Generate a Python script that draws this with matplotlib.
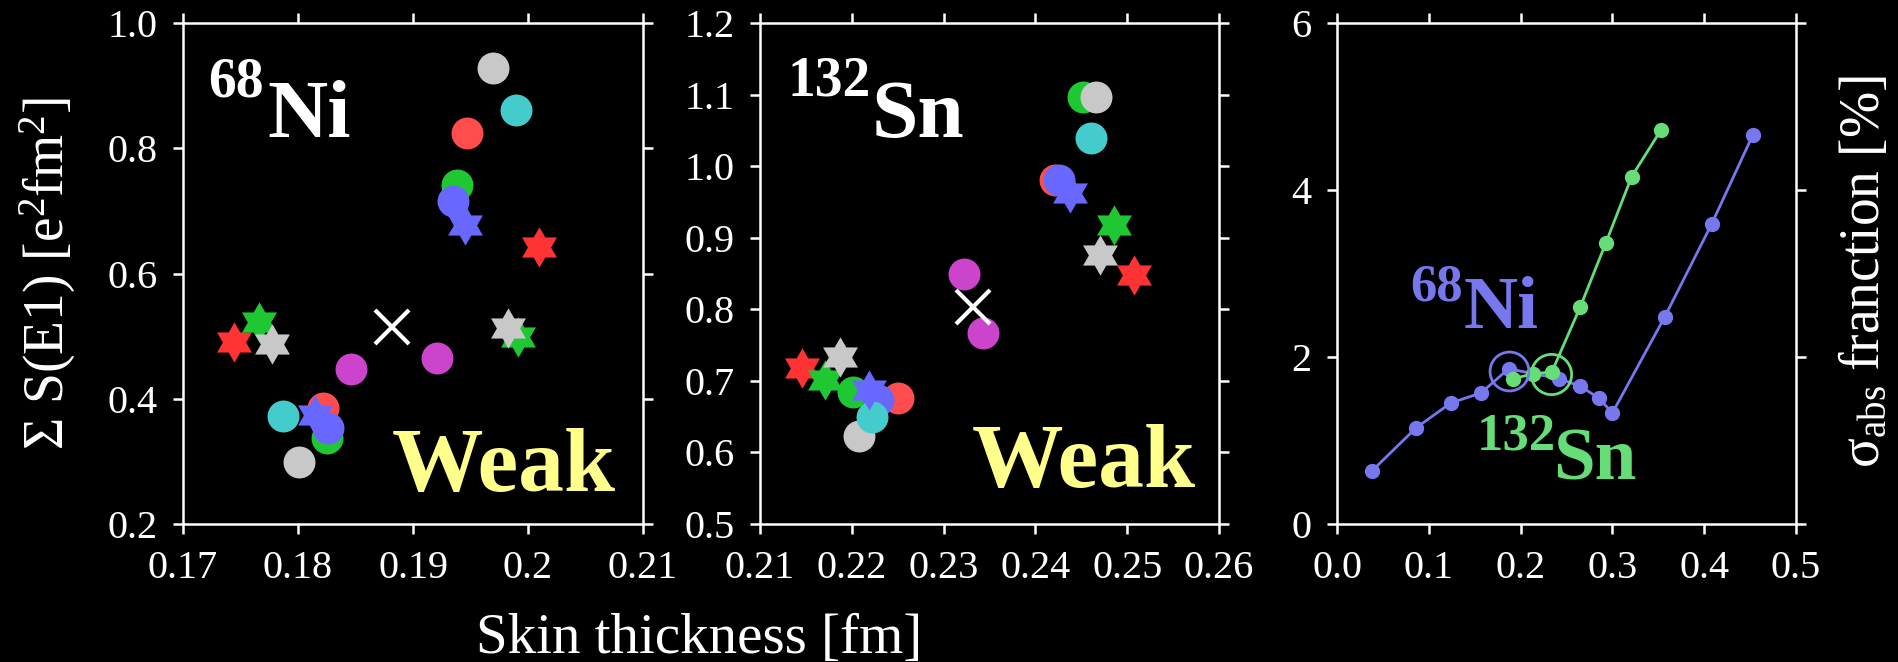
import numpy as np
import matplotlib
matplotlib.use("Agg")
import matplotlib.pyplot as plt
from matplotlib.ticker import FuncFormatter

plt.rcParams['font.family'] = ['Liberation Serif', 'DejaVu Serif']
plt.rcParams['mathtext.fontset'] = 'custom'
plt.rcParams['mathtext.rm'] = 'Liberation Serif'
plt.rcParams['mathtext.it'] = 'Liberation Serif:italic'
plt.rcParams['mathtext.bf'] = 'Liberation Serif:bold'

# ---- data: 68Ni, circles (one pair per model family) ----
models = ["red", "green", "gray", "blue", "cyan", "magenta"]
ni_circ_x = {"red": [0.1947, 0.1822], "green": [0.1938, 0.1825], "gray": [0.1970, 0.1801],
             "blue": [0.1935, 0.1826], "cyan": [0.1990, 0.1787], "magenta": [0.1846, 0.1921]}
ni_circ_y = {"red": [0.824, 0.386], "green": [0.742, 0.338], "gray": [0.928, 0.299],
             "blue": [0.715, 0.353], "cyan": [0.861, 0.373], "magenta": [0.448, 0.465]}
star_models = ["red", "green", "gray", "blue"]
ni_star_x = {"red": [0.2010, 0.1744], "green": [0.1766, 0.1991], "gray": [0.1777, 0.1983],
             "blue": [0.1945, 0.1815]}
ni_star_y = {"red": [0.642, 0.490], "green": [0.522, 0.499], "gray": [0.488, 0.513],
             "blue": [0.678, 0.374]}
ni_cross = (0.1882, 0.515)

# ---- data: 132Sn ----
sn_circ_x = {"red": [0.2421, 0.2250], "green": [0.2452, 0.2201], "gray": [0.2466, 0.2208],
             "blue": [0.2426, 0.2229], "cyan": [0.2461, 0.2222], "magenta": [0.2322, 0.2343]}
sn_circ_y = {"red": [0.980, 0.676], "green": [1.096, 0.684], "gray": [1.096, 0.623],
             "blue": [0.980, 0.673], "cyan": [1.039, 0.650], "magenta": [0.850, 0.767]}
sn_star_x = {"red": [0.2507, 0.2146], "green": [0.2486, 0.2171], "gray": [0.2470, 0.2187],
             "blue": [0.2438, 0.2219]}
sn_star_y = {"red": [0.848, 0.718], "green": [0.918, 0.701], "gray": [0.876, 0.733],
             "blue": [0.962, 0.687]}
sn_cross = (0.2332, 0.803)

# ---- data: sigma_abs fraction vs skin ----
ni_skin = [0.038, 0.086, 0.124, 0.157, 0.187, 0.214, 0.242, 0.265, 0.285, 0.300, 0.357, 0.408, 0.453]
ni_frac = [0.635, 1.15, 1.45, 1.57, 1.86, 1.80, 1.74, 1.65, 1.51, 1.33, 2.48, 3.59, 4.66]
sn_skin = [0.192, 0.214, 0.234, 0.265, 0.293, 0.321, 0.353]
sn_frac = [1.74, 1.80, 1.82, 2.60, 3.37, 4.16, 4.72]
ni_mark = (0.187, 1.83)
sn_mark = (0.233, 1.80)

circ_col = {"red": "#ff4d4d", "green": "#1fc832", "gray": "#c8c8c8", "blue": "#6868ff",
            "cyan": "#44cccc", "magenta": "#cc44cc"}
star_col = {"red": "#ff3333", "green": "#1fc832", "gray": "#c8c8c8", "blue": "#6868ff"}
NI_BLUE = "#7777ee"
SN_GREEN = "#66dd77"
WEAK = "#ffff8c"

# six pointed star marker
ang = np.deg2rad(np.arange(12) * 30 + 90)
rad = np.where(np.arange(12) % 2 == 0, 1.0, 1 / np.sqrt(3))
hexagram = list(zip(rad * np.cos(ang), rad * np.sin(ang)))

fig = plt.figure(figsize=(18.99, 6.62), dpi=100, facecolor="black")
W, H = 1899, 662


def make_ax(x0, x1, y0=23, y1=524):
    ax = fig.add_axes([x0 / W, 1 - y1 / H, (x1 - x0) / W, (y1 - y0) / H])
    ax.set_facecolor("black")
    for s in ax.spines.values():
        s.set_color("white")
        s.set_linewidth(1.8)
    ax.tick_params(which="both", direction="out", length=7.5, width=1.8, colors="white",
                   top=True, right=True, labelsize=29, pad=11)
    return ax


def scatter_panel(ax, cx, cy, sx, sy, cross):
    for m in models:
        ax.plot(cx[m], cy[m], "o", ms=23, color=circ_col[m], mec="none", zorder=3)
    for m in star_models:
        ax.plot(sx[m], sy[m], marker=hexagram, ls="none", ms=29, color=star_col[m],
                mec="none", zorder=4)
    ax.plot([cross[0]], [cross[1]], "x", ms=24, mew=3, color="white", zorder=5)


g = FuncFormatter(lambda v, p: "%g" % round(v, 3))
f1 = FuncFormatter(lambda v, p: "%.1f" % v)

ax1 = make_ax(183, 643)
scatter_panel(ax1, ni_circ_x, ni_circ_y, ni_star_x, ni_star_y, ni_cross)
ax1.set_xlim(0.17, 0.21)
ax1.set_ylim(0.2, 1.0)
ax1.set_xticks(np.arange(0.17, 0.2101, 0.01))
ax1.set_yticks([0.2, 0.4, 0.6, 0.8, 1.0])
ax1.xaxis.set_major_formatter(g)
ax1.yaxis.set_major_formatter(f1)
ax1.text(0.054, 0.854, "68", transform=ax1.transAxes, color="white", fontsize=40,
         fontweight="bold", va="baseline")
ax1.text(0.183, 0.772, "Ni", transform=ax1.transAxes, color="white", fontsize=60,
         fontweight="bold", va="baseline")
ax1.text(0.454, 0.066, "Weak", transform=ax1.transAxes, color=WEAK, fontsize=66,
         fontweight="bold", va="baseline")

ax2 = make_ax(760, 1219)
scatter_panel(ax2, sn_circ_x, sn_circ_y, sn_star_x, sn_star_y, sn_cross)
ax2.set_xlim(0.21, 0.26)
ax2.set_ylim(0.5, 1.2)
ax2.set_xticks(np.arange(0.21, 0.2601, 0.01))
ax2.set_yticks(np.arange(0.5, 1.201, 0.1))
ax2.xaxis.set_major_formatter(g)
ax2.yaxis.set_major_formatter(f1)
ax2.text(0.059, 0.856, "132", transform=ax2.transAxes, color="white", fontsize=40,
         fontweight="bold", va="baseline")
ax2.text(0.242, 0.772, "Sn", transform=ax2.transAxes, color="white", fontsize=60,
         fontweight="bold", va="baseline")
ax2.text(0.462, 0.074, "Weak", transform=ax2.transAxes, color=WEAK, fontsize=66,
         fontweight="bold", va="baseline")

ax3 = make_ax(1337, 1796)
ax3.plot(ni_skin, ni_frac, "-o", color=NI_BLUE, lw=2, ms=10, zorder=3)
ax3.plot(sn_skin, sn_frac, "-o", color=SN_GREEN, lw=2, ms=10, zorder=4)
ax3.plot([ni_mark[0]], [ni_mark[1]], "o", ms=28, mfc="none", mec=NI_BLUE, mew=2, zorder=5)
ax3.plot([sn_mark[0]], [sn_mark[1]], "o", ms=29, mfc="none", mec=SN_GREEN, mew=2, zorder=5)
ax3.set_xlim(0.0, 0.5)
ax3.set_ylim(0, 6)
ax3.set_xticks(np.arange(0, 0.501, 0.1))
ax3.set_yticks([0, 2, 4, 6])
ax3.xaxis.set_major_formatter(f1)
ax3.text(0.159, 0.447, "68", transform=ax3.transAxes, color=NI_BLUE, fontsize=38,
         fontweight="bold", va="baseline")
ax3.text(0.275, 0.391, "Ni", transform=ax3.transAxes, color=NI_BLUE, fontsize=54,
         fontweight="bold", va="baseline")
ax3.text(0.305, 0.148, "132", transform=ax3.transAxes, color=SN_GREEN, fontsize=38,
         fontweight="bold", va="baseline")
ax3.text(0.471, 0.088, "Sn", transform=ax3.transAxes, color=SN_GREEN, fontsize=54,
         fontweight="bold", va="baseline")

fig.text(699 / W, 1 - 653 / H, "Skin thickness [fm]", color="white", fontsize=41,
         ha="center", va="baseline")
fig.text(48 / W, 1 - 273 / H, "Σ S(E1) [e$^2$fm$^2$]", color="white", fontsize=40,
         ha="center", va="center", rotation=90)
fig.text(1865 / W, 1 - 272 / H, "σ$_{\\mathrm{abs}}$ franction [%]", color="white",
         fontsize=40, ha="center", va="center", rotation=90)

fig.savefig("out.png", dpi=100, facecolor="black")
